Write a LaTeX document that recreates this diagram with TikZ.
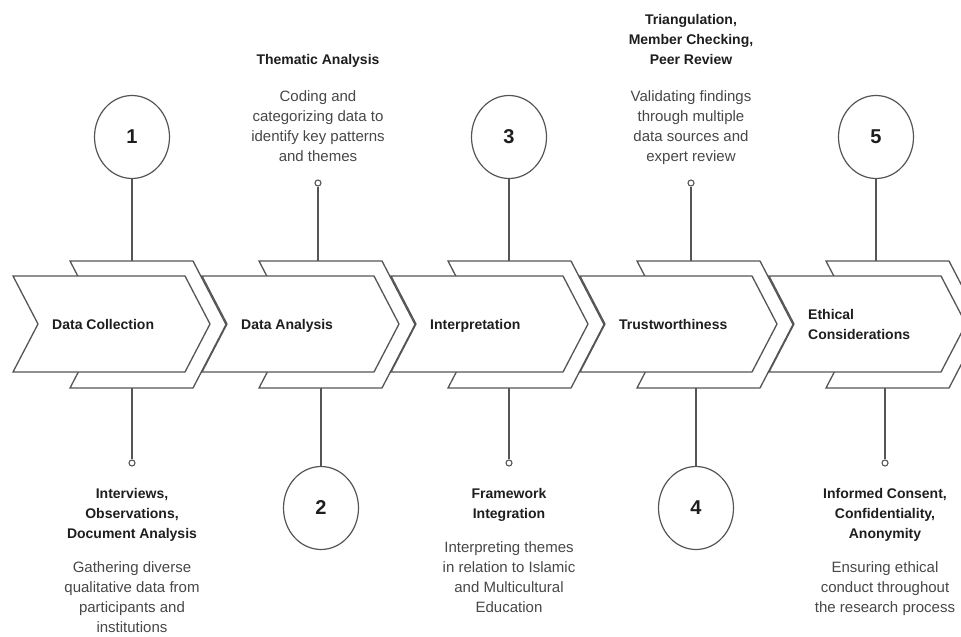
\documentclass[tikz,border=0pt]{standalone}
\usepackage{fontspec}
\setmainfont{Liberation Sans}
\usetikzlibrary{shapes.geometric, positioning}

\definecolor{linegray}{HTML}{555555}
\definecolor{headink}{HTML}{1E1E1E}
\definecolor{bodyink}{HTML}{474747}

\tikzset{
  chevron/.style={draw=linegray, line width=1.3pt, fill=white},
  stagelabel/.style={font=\fontsize{14}{20}\selectfont\bfseries, text=headink, align=left, anchor=base west, inner sep=0pt},
  numcircle/.style={ellipse, draw=linegray, line width=1.2pt, fill=white, minimum width=75pt, minimum height=83pt, inner sep=0pt, font=\fontsize{20}{20}\selectfont\bfseries, text=headink},
  pinhead/.style={circle, draw=linegray, line width=1.1pt, fill=white, minimum size=6pt, inner sep=0pt},
  stemline/.style={draw=linegray, line width=1.3pt},
  headtext/.style={font=\fontsize{14}{20}\selectfont\bfseries, text=headink, align=center, inner sep=0pt, anchor=base},
  bodytext/.style={font=\fontsize{15}{20}\selectfont, text=bodyink, align=center, inner sep=0pt, anchor=base}
}

\begin{document}
\begin{tikzpicture}[x=1pt, y=-1pt]
  \useasboundingbox (0,0) rectangle (961,637);
  \clip (0,0) rectangle (961,637);

  % Chevrons: back band, then front arrow
  \foreach \i in {0,...,4} {
    \pgfmathsetmacro{\L}{13+189*\i}
    \draw[chevron] (\L+57,261) -- (\L+180,261) -- (\L+213,324.5) -- (\L+180,388) -- (\L+57,388) -- (\L+90,324.5) -- cycle;
    \draw[chevron] (\L,276) -- (\L+172,276) -- (\L+197,324) -- (\L+172,372) -- (\L,372) -- (\L+25,324) -- cycle;
  }

  % Stage labels (placed by the baseline of their last line)
  \node[stagelabel] (s1) at (52,329) {Data Collection};
  \node[stagelabel] (s2) at (241,329) {Data Analysis};
  \node[stagelabel] (s3) at (430,329) {Interpretation};
  \node[stagelabel] (s4) at (619,329) {Trustworthiness};
  \node[stagelabel] (s5) at (808,339) {Ethical\\Considerations};

  % Attachment points on the bands
  \coordinate (t1) at (132,261);  \coordinate (b1) at (132,388);
  \coordinate (t2) at (318,261);  \coordinate (b2) at (321,388);
  \coordinate (t3) at (509,261);  \coordinate (b3) at (509,388);
  \coordinate (t4) at (691,261);  \coordinate (b4) at (696,388);
  \coordinate (t5) at (876,261);  \coordinate (b5) at (885,388);

  % Numbered circles
  \node[numcircle] (c1) at (132,137) {1};
  \node[numcircle] (c2) at (321,508) {2};
  \node[numcircle] (c3) at (509,137) {3};
  \node[numcircle] (c4) at (696,508) {4};
  \node[numcircle] (c5) at (876,137) {5};

  % Pins
  \node[pinhead] (p1) at (132,463) {};
  \node[pinhead] (p2) at (318,183) {};
  \node[pinhead] (p3) at (509,463) {};
  \node[pinhead] (p4) at (691,183) {};
  \node[pinhead] (p5) at (885,463) {};

  % Stems
  \draw[stemline] (c1) -- (t1);  \draw[stemline] (b1) -- (p1);
  \draw[stemline] (p2) -- (t2);  \draw[stemline] (b2) -- (c2);
  \draw[stemline] (c3) -- (t3);  \draw[stemline] (b3) -- (p3);
  \draw[stemline] (p4) -- (t4);  \draw[stemline] (b4) -- (c4);
  \draw[stemline] (c5) -- (t5);  \draw[stemline] (b5) -- (p5);

  % Texts below (placed by the baseline of their last line)
  \node[headtext] (h1) at (132,538) {Interviews,\\Observations,\\Document Analysis};
  \node[bodytext] (d1) at (132,632) {Gathering diverse\\qualitative data from\\participants and\\institutions};
  \node[headtext] (h3) at (509,518) {Framework\\Integration};
  \node[bodytext] (d3) at (509,612) {Interpreting themes\\in relation to Islamic\\and Multicultural\\Education};
  \node[headtext] (h5) at (885,538) {Informed Consent,\\Confidentiality,\\Anonymity};
  \node[bodytext] (d5) at (885,612) {Ensuring ethical\\conduct throughout\\the research process};

  % Texts above
  \node[headtext] (h2) at (318,64) {Thematic Analysis};
  \node[bodytext] (d2) at (318,161) {Coding and\\categorizing data to\\identify key patterns\\and themes};
  \node[headtext] (h4) at (691,64) {Triangulation,\\Member Checking,\\Peer Review};
  \node[bodytext] (d4) at (691,161) {Validating findings\\through multiple\\data sources and\\expert review};
\end{tikzpicture}
\end{document}
